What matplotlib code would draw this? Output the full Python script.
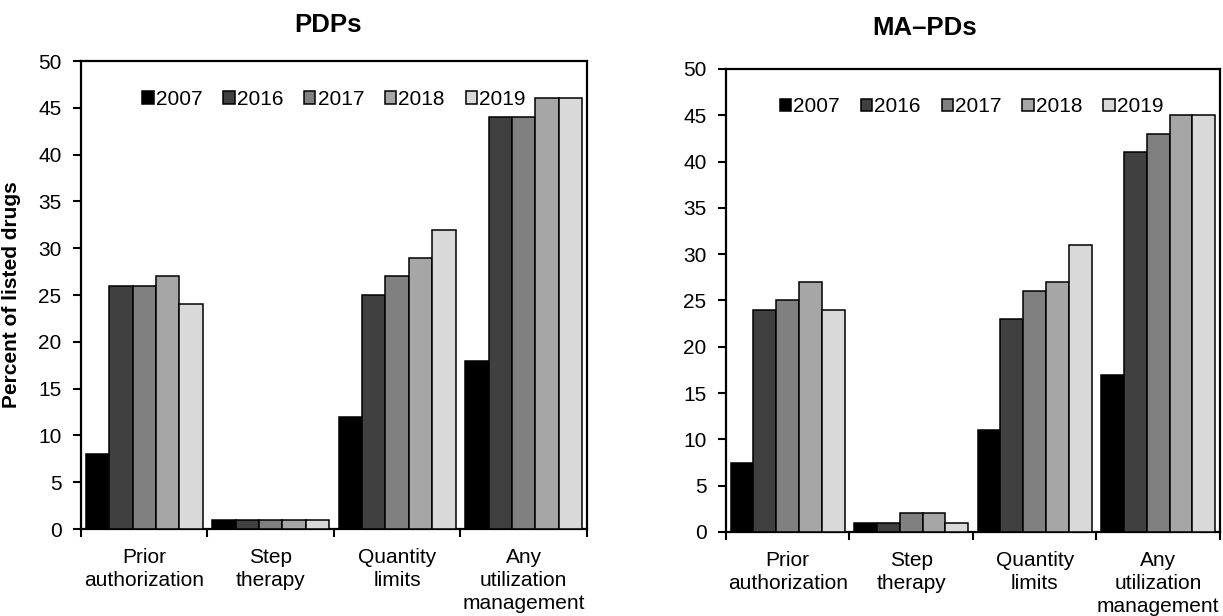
import matplotlib
matplotlib.use("Agg")
import matplotlib.pyplot as plt
import numpy as np

categories = ["Prior\nauthorization", "Step\ntherapy", "Quantity\nlimits", "Any\nutilization\nmanagement"]
years = ["2007", "2016", "2017", "2018", "2019"]
colors = ["#000000", "#404040", "#808080", "#a6a6a6", "#d9d9d9"]

# values per year, one entry per category
pdp_values = {
    "2007": [8, 1, 12, 18],
    "2016": [26, 1, 25, 44],
    "2017": [26, 1, 27, 44],
    "2018": [27, 1, 29, 46],
    "2019": [24, 1, 32, 46],
}
mapd_values = {
    "2007": [7.5, 1, 11, 17],
    "2016": [24, 1, 23, 41],
    "2017": [25, 2, 26, 43],
    "2018": [27, 2, 27, 45],
    "2019": [24, 1, 31, 45],
}

plt.rcParams["font.family"] = ["Liberation Sans", "DejaVu Sans"]
plt.rcParams["font.size"] = 15

fig = plt.figure(figsize=(12.23, 6.16), dpi=100)
ax1 = fig.add_axes([0.0662, 0.1412, 0.4137, 0.7597])
ax2 = fig.add_axes([0.5936, 0.1364, 0.4039, 0.7516])

width = 0.185


def draw(ax, data, legend_x):
    x = np.arange(len(categories))
    handles = []
    for j, yr in enumerate(years):
        b = ax.bar(x + (j - 2) * width, data[yr], width, color=colors[j],
                   edgecolor="black", linewidth=1.1, label=yr, zorder=3)
        handles.append(b)
    ax.set_xlim(-0.5, len(categories) - 0.5)
    ax.set_ylim(0, 50)
    ax.set_yticks(range(0, 51, 5))
    ax.set_xticks(x)
    ax.set_xticklabels(categories, linespacing=1.25)
    ax.set_xticks(np.arange(-0.5, len(categories), 1), minor=True)
    ax.tick_params(axis="x", which="major", length=0, pad=14)
    ax.tick_params(axis="x", which="minor", length=6, width=1.5, direction="out")
    ax.tick_params(axis="y", length=6, width=1.5, direction="out", pad=8)
    for s in ax.spines.values():
        s.set_linewidth(1.6)
    leg = ax.legend(handles=handles, loc="center", bbox_to_anchor=(legend_x, 0.918),
                    ncol=5, frameon=False, handlelength=0.55, handleheight=0.55,
                    handletextpad=0.1, columnspacing=1.0, borderpad=0, fontsize=15)
    return leg


draw(ax1, pdp_values, 0.5)
draw(ax2, mapd_values, 0.497)

ax1.set_ylabel("Percent of listed drugs", fontweight="bold", fontsize=15, labelpad=12)

fig.text(328 / 1223, 1 - 25 / 616, "PDPs", ha="center", va="center", fontweight="bold", fontsize=18.5)
fig.text(925 / 1223, 1 - 28 / 616, "MA–PDs", ha="center", va="center", fontweight="bold", fontsize=18.5)

fig.savefig("out.png", dpi=100)
